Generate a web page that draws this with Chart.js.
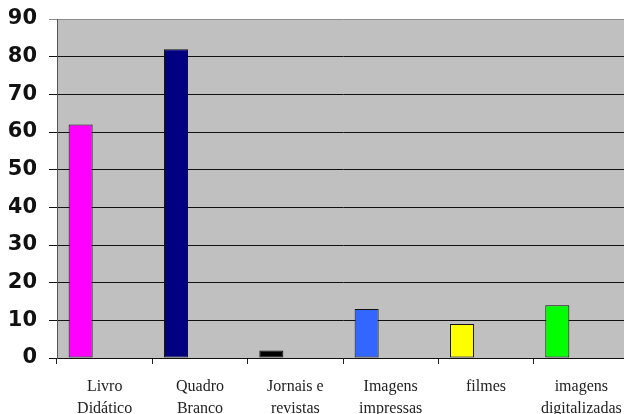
<!DOCTYPE html>
<html>
<head>
<meta charset="utf-8">
<script src="https://cdn.jsdelivr.net/npm/chart.js@4/dist/chart.umd.min.js"></script>
<style>
  html, body { margin: 0; padding: 0; background: #fff; overflow: hidden; }
  #wrap { width: 629px; height: 414px; position: relative; }
</style>
</head>
<body>
<div id="wrap"><canvas id="c"></canvas></div>
<script>
// Recursos didáticos utilizados
const categories = [
  ['Livro', 'Didático'],
  ['Quadro', 'Branco'],
  ['Jornais e', 'revistas'],
  ['Imagens', 'impressas'],
  ['filmes'],
  ['imagens', 'digitalizadas']
];
const values = [62, 82, 2, 13, 9, 14];
const barColors = ['#FF00FF', '#000080', '#000000', '#3366FF', '#FFFF00', '#00FF00'];
const yTicks = [0, 10, 20, 30, 40, 50, 60, 70, 80, 90];

// grey plot-area background
const plotBackground = {
  id: 'plotBackground',
  beforeDraw(chart) {
    const { ctx, chartArea: a } = chart;
    ctx.save();
    ctx.fillStyle = '#C0C0C0';
    ctx.fillRect(a.left, a.top, a.right - a.left, a.bottom - a.top);
    ctx.restore();
  }
};

const emptySeries = categories.map(() => null);

new Chart(document.getElementById('c'), {
  type: 'bar',
  data: {
    labels: categories,
    datasets: [
      {
        data: values,
        backgroundColor: barColors,
        borderColor: '#111',
        borderWidth: 1,
        borderSkipped: false
      },
      { data: emptySeries },
      { data: emptySeries }
    ]
  },
  options: {
    responsive: true,
    maintainAspectRatio: false,
    animation: false,
    devicePixelRatio: 1,
    categoryPercentage: 0.756,
    barPercentage: 1,
    layout: { padding: { left: 9, right: 0, top: 19, bottom: 0 } },
    plugins: {
      legend: { display: false },
      tooltip: { enabled: false }
    },
    scales: {
      x: {
        offset: true,
        afterFit(scale) {
          scale.paddingLeft = 0;
          scale.paddingRight = 0;
          scale.height = 56;
        },
        grid: {
          offset: true,
          drawOnChartArea: false,
          drawTicks: true,
          tickLength: 6,
          color: '#222'
        },
        border: { display: true, color: '#111', width: 1 },
        ticks: {
          color: '#222',
          font: { family: 'Liberation Serif', size: 16, lineHeight: 1.35 },
          padding: 12,
          maxRotation: 0,
          autoSkip: false
        }
      },
      y: {
        min: 0,
        max: 90,
        afterBuildTicks(scale) { scale.ticks = yTicks.map(v => ({ value: v })); },
        afterFit(scale) {
          scale.width = 48;
          scale.paddingTop = 0;
          scale.paddingBottom = 0;
        },
        grid: {
          color: (c) => c.tick && c.tick.value === 90 ? '#8c8c8c' : '#111',
          lineWidth: 1,
          drawTicks: true,
          tickLength: 8
        },
        border: { display: true, color: '#555', width: 1 },
        ticks: {
          color: '#111',
          font: { family: 'DejaVu Sans', size: 21, weight: 'bold' },
          padding: 12
        }
      }
    }
  },
  plugins: [plotBackground]
});
</script>
</body>
</html>
